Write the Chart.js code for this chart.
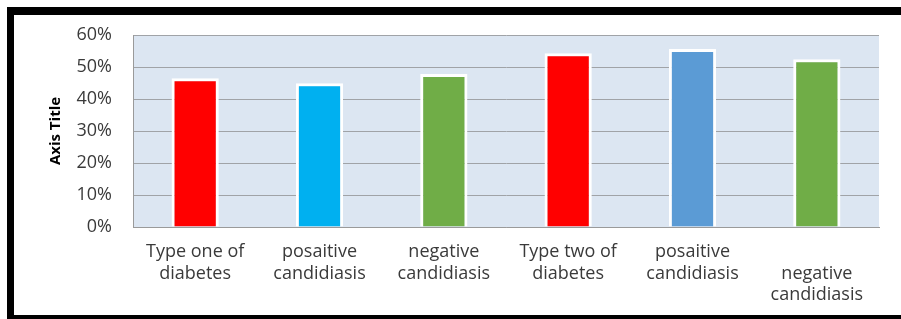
<!DOCTYPE html>
<html>
<head>
<meta charset="utf-8">
<script src="https://cdn.jsdelivr.net/npm/chart.js@4"></script>
<style>
  html, body { margin: 0; padding: 0; background: #fff; }
  body { width: 901px; height: 319px; position: relative; overflow: hidden; }
  #frame {
    position: absolute; left: 7px; top: 7px; width: 900px; height: 300px;
    border-left: 7px solid #000; border-top: 8px solid #000; border-bottom: 6px solid #000;
    background: #fff;
  }
  #c { position: absolute; left: 0; top: 0; }
</style>
</head>
<body>
<div id="frame"></div>
<canvas id="c" width="901" height="319"></canvas>
<script>
const categories = [
  ["Type one of", "diabetes"],
  ["posaitive", "candidiasis"],
  ["negative", "candidiasis"],
  ["Type two of", "diabetes"],
  ["posaitive", "candidiasis"],
  ["", "negative", "candidiasis"]
];
const values = [46.5, 44.9, 47.8, 54.3, 55.6, 52.4];
const barColors = ["#ff0000", "#00b0f0", "#70ad47", "#ff0000", "#5b9bd5", "#70ad47"];
const yTicks = [0, 10, 20, 30, 40, 50, 60];
const yTitle = "Axis Title";

const plotBg = {
  id: 'plotBg',
  beforeDraw(chart) {
    const a = chart.chartArea, ctx = chart.ctx;
    ctx.save();
    ctx.fillStyle = '#dce6f2';
    ctx.fillRect(a.left, a.top, a.right - a.left, a.bottom - a.top);
    ctx.restore();
  }
};

new Chart(document.getElementById('c'), {
  type: 'bar',
  data: {
    labels: categories,
    datasets: [{
      data: values,
      backgroundColor: barColors,
      borderColor: '#ffffff',
      borderWidth: 3,
      categoryPercentage: 1,
      barPercentage: 0.38
    }]
  },
  options: {
    responsive: false,
    animation: false,
    devicePixelRatio: 1,
    layout: { padding: { top: 35, right: 22, left: 47, bottom: 0 } },
    plugins: { legend: { display: false }, tooltip: { enabled: false } },
    scales: {
      x: {
        grid: { display: false, drawTicks: false },
        border: { display: true, color: '#9a9a9a', width: 1 },
        ticks: {
          color: '#3a3a3a',
          font: { family: 'Open Sans', size: 18 },
          padding: 14,
          maxRotation: 0, minRotation: 0, autoSkip: false
        },
        afterFit(s) { s.height = 319 - 227; }
      },
      y: {
        min: yTicks[0], max: yTicks[yTicks.length - 1],
        afterBuildTicks(s) { s.ticks = yTicks.map(v => ({ value: v })); },
        grid: { color: '#a0a3a7', lineWidth: 1, drawTicks: false },
        border: { display: true, color: '#9a9a9a', width: 1 },
        ticks: {
          color: '#3a3a3a',
          font: { family: 'Open Sans', size: 18 },
          padding: 21,
          callback: v => v + '%'
        },
        title: {
          display: true, text: yTitle, color: '#000',
          font: { family: 'Open Sans', size: 15, weight: 'bold' },
          padding: 0
        },
        afterFit(s) { s.width = 133 - 47; }
      }
    }
  },
  plugins: [plotBg]
});
</script>
</body>
</html>
